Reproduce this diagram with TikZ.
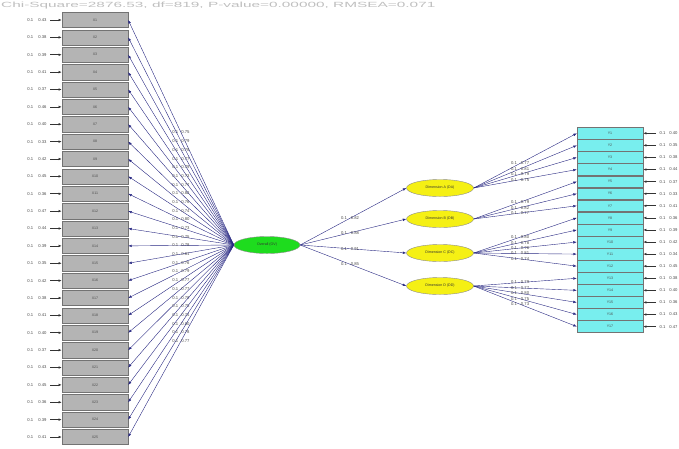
\documentclass[tikz,border=0pt]{standalone}
\usepackage{fontspec}
\setmainfont{Liberation Sans}
\usetikzlibrary{arrows.meta,shapes.geometric}
\definecolor{pathc}{RGB}{40,40,130}
\definecolor{boxg}{RGB}{180,180,180}
\definecolor{boxc}{RGB}{120,238,238}
\definecolor{latg}{RGB}{30,220,30}
\definecolor{laty}{RGB}{245,240,20}
\begin{document}
\begin{tikzpicture}[x=1pt,y=-1pt,
  lab/.style={font=\fontsize{4.2}{4.5}\selectfont, text=black!70, inner sep=0.3pt},
  obs/.style={draw=black!55, fill=boxg, minimum width=66pt, minimum height=15.2pt, inner sep=0pt, font=\fontsize{3.6}{4}\selectfont, text=black!70},
  cobs/.style={draw=black!55, fill=boxc, minimum width=66pt, minimum height=11.8pt, inner sep=0pt, font=\fontsize{3.6}{4}\selectfont, text=black!70},
  lat/.style={ellipse, draw=black!45, minimum width=67pt, minimum height=17pt, inner sep=0pt, font=\fontsize{3.6}{4}\selectfont, text=black!80},
  arr/.style={draw=pathc, line width=0.4pt, -{Latex[length=3.5pt,width=2.6pt]}},
  earr/.style={draw=black!80, line width=0.7pt, -{Latex[length=3.2pt,width=2.6pt]}}
]
\useasboundingbox (0,0) rectangle (679,448);
\node[anchor=north west, text=black!25, font=\fontsize{7.5}{8}\selectfont, inner sep=0] (T) at (1,1.5) {\scalebox{2.05}[1]{Chi-Square=2876.53, df=819, P-value=0.00000, RMSEA=0.071}};

\node[lat, fill=latg, minimum width=66pt] (G) at (267,245) {Overall (OV)};
\node[lat, fill=laty] (Y1) at (440,188) {Dimension A (DA)};
\node[lat, fill=laty] (Y2) at (440,219) {Dimension B (DB)};
\node[lat, fill=laty] (Y3) at (440,253) {Dimension C (DC)};
\node[lat, fill=laty] (Y4) at (440,286) {Dimension D (DD)};

\foreach \e/\l [count=\i] in {0.43/0.75,0.38/0.79,0.39/0.78,0.41/0.77,0.37/0.79,0.46/0.73,0.40/0.77,0.33/0.82,0.42/0.76,0.45/0.74,0.36/0.80,0.47/0.73,0.44/0.75,0.39/0.78,0.35/0.81,0.42/0.76,0.38/0.79,0.41/0.77,0.40/0.77,0.37/0.79,0.43/0.75,0.45/0.74,0.36/0.80,0.39/0.78,0.41/0.77}{
  \pgfmathsetmacro\yy{20+17.375*(\i-1)}
  \node[obs] (L\i) at (95,\yy) {X\i};
  \coordinate (LE\i) at (50,\yy);
  \draw[earr] (LE\i) -- (L\i.west);
  \node[lab, anchor=east] (LEl\i) at (47,\yy) {0.1\hspace{5pt}\e};
  \draw[arr] (G.west) -- node[lab, pos=0.5] (LL\i) {0.1\hspace{3pt}\l} (L\i.east);
}

\foreach \l/\yy in {1/0.82, 2/0.88, 3/0.91, 4/0.85}{
  \draw[arr] (G.east) -- node[lab, pos=0.47] (GL\l) {0.1\hspace{4pt}\yy} (Y\l.west);
}

\foreach \e/\l [count=\i] in {0.40/0.77,0.35/0.81,0.38/0.79,0.44/0.75,0.37/0.79,0.33/0.82,0.41/0.77,0.36/0.80,0.39/0.78,0.42/0.76,0.34/0.81,0.45/0.74,0.38/0.79,0.40/0.77,0.36/0.80,0.43/0.75,0.47/0.73}{
  \pgfmathsetmacro\yy{133.3+12.08*(\i-1)}
  \pgfmathtruncatemacro\g{\i<5 ? 1 : (\i<8 ? 2 : (\i<13 ? 3 : 4))}
  \node[cobs] (R\i) at (610,\yy) {Y\i};
  \coordinate (RE\i) at (656,\yy);
  \draw[earr] (RE\i) -- (R\i.east);
  \node[lab, anchor=west] (REl\i) at (659,\yy) {0.1\hspace{4pt}\e};
  \draw[arr] (Y\g.east) -- node[lab, pos=0.45] (RL\i) {0.1\hspace{4pt}\l} (R\i.west);
}
\end{tikzpicture}
\end{document}
